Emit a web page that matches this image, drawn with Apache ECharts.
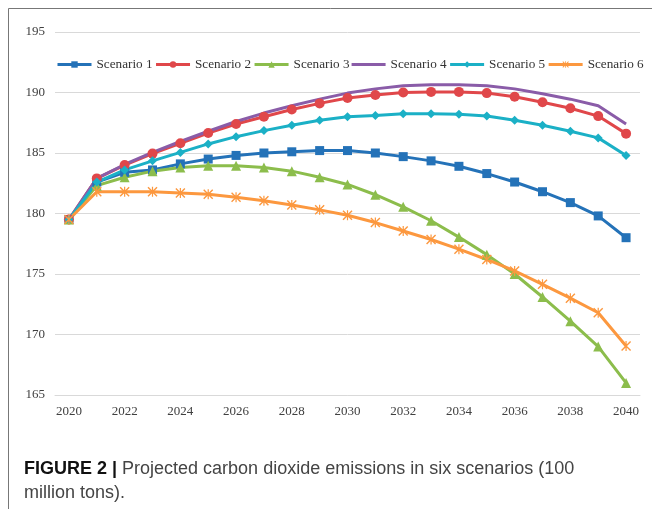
<!DOCTYPE html>
<html>
<head>
<meta charset="utf-8">
<script src="https://cdn.jsdelivr.net/npm/echarts@6/dist/echarts.min.js"></script>
<style>
  html, body { margin: 0; padding: 0; background: #fff; }
  #main { width: 652px; height: 509px; }
</style>
</head>
<body>
<div id="main"></div>
<script>
// years on the x axis
var years = [];
for (var y = 2020; y <= 2040; y++) years.push(String(y));

// values (100 million tons)
var scenario1 = [179.5, 182.6, 183.4, 183.6, 184.1, 184.5, 184.8, 185.0, 185.1, 185.2, 185.2, 185.0, 184.7, 184.35, 183.9, 183.3, 182.6, 181.8, 180.9, 179.8, 178.0];
var scenario2 = [179.5, 182.9, 184.0, 184.95, 185.8, 186.65, 187.4, 188.0, 188.6, 189.1, 189.55, 189.8, 190.0, 190.05, 190.05, 189.95, 189.65, 189.2, 188.7, 188.05, 186.6];
var scenario3 = [179.5, 182.3, 183.0, 183.5, 183.8, 183.95, 183.95, 183.8, 183.5, 183.0, 182.4, 181.55, 180.55, 179.4, 178.05, 176.6, 175.0, 173.1, 171.1, 169.0, 166.0];
var scenario4 = [179.5, 182.9, 184.05, 185.05, 185.95, 186.8, 187.6, 188.3, 188.9, 189.45, 189.95, 190.3, 190.55, 190.65, 190.65, 190.55, 190.3, 189.9, 189.45, 188.9, 187.4];
var scenario5 = [179.5, 182.6, 183.6, 184.35, 185.05, 185.75, 186.35, 186.85, 187.3, 187.7, 188.0, 188.1, 188.25, 188.25, 188.2, 188.05, 187.7, 187.3, 186.8, 186.25, 184.8];
var scenario6 = [179.5, 181.8, 181.8, 181.8, 181.7, 181.6, 181.35, 181.05, 180.7, 180.3, 179.85, 179.25, 178.55, 177.85, 177.05, 176.2, 175.25, 174.15, 173.0, 171.8, 169.05];

var names = ['Scenario 1', 'Scenario 2', 'Scenario 3', 'Scenario 4', 'Scenario 5', 'Scenario 6'];
var values = [scenario1, scenario2, scenario3, scenario4, scenario5, scenario6];
var colors = ['#2472b8', '#e0474a', '#8cbd4c', '#8a5ca8', '#1bb0c6', '#fc983f'];

// excel-like star marker (x with a vertical bar)
var star = 'path://M0,1L1,0L10,9L9,10Z M9,0L10,1L1,10L0,9Z M4.4,0L5.6,0L5.6,10L4.4,10Z';
var symbols = ['rect', 'circle', 'triangle', 'none', 'diamond', star];
var symbolSizes = [9, 10, 10, 0, 9, 10];

var chart = echarts.init(document.getElementById('main'));

var series = names.map(function (n, i) {
  return {
    name: n,
    type: 'line',
    data: values[i],
    symbol: symbols[i],
    symbolSize: symbolSizes[i],
    showSymbol: symbols[i] !== 'none',
    lineStyle: { width: 3, color: colors[i] },
    itemStyle: { color: colors[i] },
    emphasis: { disabled: true },
    animation: false
  };
});

// legend entries, plain line for the series without markers
var legendData = names.map(function (n, i) {
  if (symbols[i] === 'none') return { name: n, icon: 'path://M0,0L34,0L34,3L0,3Z' };
  return n;
});

var serif = 'Liberation Serif';

var option = {
  color: colors,
  animation: false,
  grid: { left: 55, right: 12, top: 32, bottom: 114 },
  legend: {
    left: 51,
    top: 53,
    width: 620,
    itemWidth: 34,
    itemHeight: 8,
    itemGap: 2,
    lineStyle: { width: 3 },
    textStyle: { fontFamily: serif, fontSize: 13.2, color: '#333' },
    data: legendData
  },
  xAxis: {
    type: 'category',
    data: years,
    boundaryGap: true,
    axisLine: { show: true, lineStyle: { color: '#d9d9d9' } },
    axisTick: { show: false },
    axisLabel: { interval: 1, margin: 10, fontFamily: serif, fontSize: 13, color: '#404040' }
  },
  yAxis: {
    type: 'value',
    min: 165,
    max: 195,
    interval: 5,
    axisLine: { show: false },
    axisTick: { show: false },
    splitLine: { lineStyle: { color: '#d9d9d9', width: 1 } },
    axisLabel: { margin: 10, fontFamily: serif, fontSize: 13, color: '#404040' }
  },
  title: {
    left: 24,
    top: 457,
    padding: 0,
    text: '{b|FIGURE 2 |} Projected carbon dioxide emissions in six scenarios (100\nmillion tons).',
    textStyle: {
      fontFamily: 'Liberation Sans',
      fontSize: 18,
      fontWeight: 'normal',
      color: '#444',
      lineHeight: 24,
      rich: {
        b: { fontFamily: 'Liberation Sans', fontSize: 18, fontWeight: 'bold', color: '#111', lineHeight: 24 }
      }
    }
  },
  graphic: [
    { type: 'line', shape: { x1: 8.5, y1: 8.5, x2: 652, y2: 8.5 }, style: { stroke: '#777', lineWidth: 1 } },
    { type: 'line', shape: { x1: 8.5, y1: 8.5, x2: 8.5, y2: 509 }, style: { stroke: '#777', lineWidth: 1 } }
  ],
  series: series
};

chart.setOption(option);
</script>
</body>
</html>
